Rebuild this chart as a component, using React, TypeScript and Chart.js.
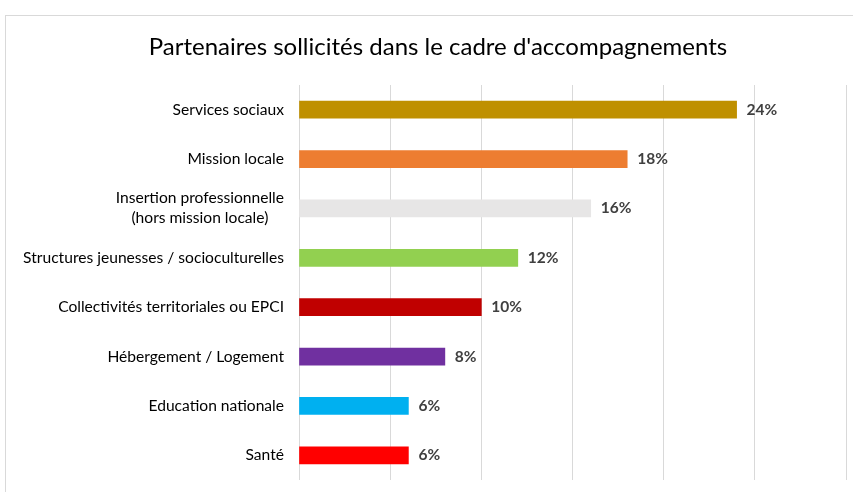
import React, { useEffect, useRef } from "react";
import { Chart, registerables } from "chart.js";

Chart.register(...registerables);

const TITLE = "Partenaires sollicités dans le cadre d'accompagnements";
const categories: (string | string[])[] = [
  "Services sociaux",
  "Mission locale",
  ["Insertion professionnelle", "(hors mission locale)"],
  "Structures jeunesses / socioculturelles",
  "Collectivités territoriales ou EPCI",
  "Hébergement / Logement",
  "Education nationale",
  "Santé",
];
const values = [24, 18, 16, 12, 10, 8, 6, 6];
const colors = ["#BF9000", "#ED7D31", "#E7E6E6", "#92D050", "#C00000", "#7030A0", "#00B0F0", "#FF0000"];
const axisMin = 0;
const axisMax = 30;
const axisStep = 5;

const FONT = "Lato, 'Open Sans', sans-serif";

const framePlugin = {
  id: "frame",
  beforeDraw(chart: any) {
    const ctx = chart.ctx;
    ctx.save();
    ctx.fillStyle = "#ffffff";
    ctx.fillRect(0, 0, chart.width, chart.height);
    ctx.strokeStyle = "#d9d9d9";
    ctx.lineWidth = 1;
    ctx.strokeRect(5.5, 15.5, chart.width + 20, chart.height + 20);
    ctx.fillStyle = "#000000";
    ctx.font = `24px ${FONT}`;
    ctx.textAlign = "center";
    ctx.textBaseline = "middle";
    ctx.fillText(TITLE, 438, 47);
    ctx.restore();
  },
};

const labelsPlugin = {
  id: "customLabels",
  afterDatasetsDraw(chart: any) {
    const ctx = chart.ctx;
    const yScale = chart.scales.y;
    const meta = chart.getDatasetMeta(0);
    ctx.save();
    ctx.fillStyle = "#000000";
    ctx.font = `15.6px ${FONT}`;
    ctx.textBaseline = "middle";
    ctx.textAlign = "center";
    const rightEdge = chart.chartArea.left - 15;
    categories.forEach((cat, i) => {
      const lines = Array.isArray(cat) ? cat : [cat];
      const y = yScale.getPixelForValue(i);
      const maxW = Math.max(...lines.map((l) => ctx.measureText(l).width));
      const cx = rightEdge - maxW / 2;
      const lh = 20;
      lines.forEach((l, j) => {
        ctx.fillText(l, cx, y + (j - (lines.length - 1) / 2) * lh);
      });
    });
    ctx.fillStyle = "#404040";
    ctx.font = `bold 15.5px ${FONT}`;
    ctx.textAlign = "left";
    meta.data.forEach((bar: any, i: number) => {
      ctx.fillText(values[i] + "%", bar.x + 10, bar.y);
    });
    ctx.restore();
  },
};

export default function App() {
  const ref = useRef<HTMLCanvasElement>(null);
  useEffect(() => {
    const chart = new Chart(ref.current!, {
      type: "bar",
      data: {
        labels: categories,
        datasets: [
          {
            data: values,
            backgroundColor: colors,
            borderWidth: 0,
            barThickness: 17,
          },
        ],
      },
      options: {
        indexAxis: "y",
        responsive: false,
        animation: false,
        devicePixelRatio: 1,
        layout: { padding: { left: 0, right: 7, top: 85, bottom: 12 } },
        plugins: { legend: { display: false }, title: { display: false }, tooltip: { enabled: false } },
        scales: {
          x: {
            min: axisMin,
            max: axisMax,
            ticks: { display: false, stepSize: axisStep },
            grid: { color: "#d9d9d9", drawTicks: false, lineWidth: 1 },
            border: { display: false },
          },
          y: {
            ticks: { display: false },
            grid: { display: false, drawTicks: false },
            border: { display: false },
            afterFit(s: any) {
              s.width = 299;
            },
          },
        },
      },
      plugins: [framePlugin, labelsPlugin],
    });
    return () => chart.destroy();
  }, []);
  return (
    <div style={{ position: "fixed", left: 0, top: 0, width: 853, height: 492, background: "#fff" }}>
      <canvas ref={ref} width={853} height={492} style={{ display: "block" }} />
    </div>
  );
}
